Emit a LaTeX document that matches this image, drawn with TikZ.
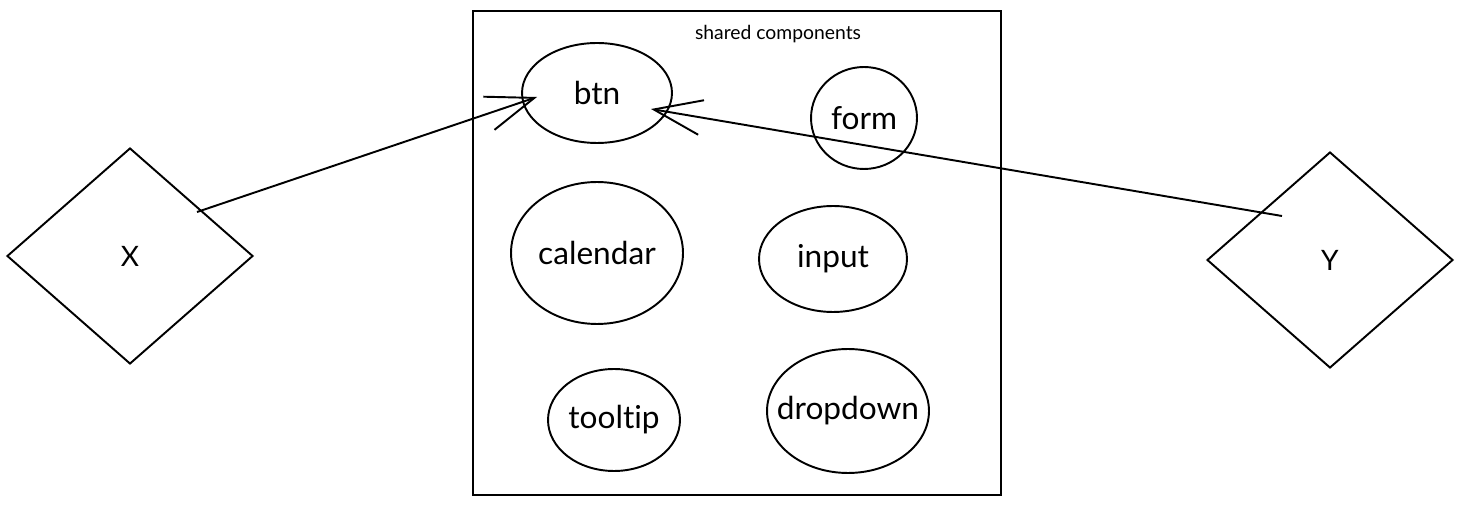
\documentclass[tikz,border=0pt]{standalone}
\usepackage{fontspec}
\setmainfont[Ligatures={NoCommon,NoDiscretionary}]{Lato}
\usetikzlibrary{arrows.meta,shapes.geometric}

\begin{document}
\begin{tikzpicture}[x=0.02cm,y=-0.02cm,line width=1.1pt,
  >={Straight Barb[length=0.96cm,width=0.7cm]},
  comp/.style={draw,ellipse,inner sep=0pt,font=\fontsize{18}{20}\selectfont},
  actor/.style={draw,diamond,inner sep=0pt,minimum width=4.92cm,minimum height=4.32cm,font=\fontsize{16}{18}\selectfont}]
  \useasboundingbox (0,0) rectangle (1470,516);
  % shared components
  \node[draw,minimum width=10.56cm,minimum height=9.68cm] (shared) at (737,253) {};
  \node[font=\fontsize{11}{13}\selectfont] (title) at (778,34) {shared components};
  \node[comp,minimum width=3cm,minimum height=2cm] (btn) at (597,93) {btn};
  \node[comp,minimum width=2.12cm,minimum height=2.04cm] (form) at (864,118) {form};
  \node[comp,minimum width=3.44cm,minimum height=2.84cm] (calendar) at (597,253) {calendar};
  \node[comp,minimum width=2.96cm,minimum height=2.12cm] (input) at (833,259) {input};
  \node[comp,minimum width=2.64cm,minimum height=2.04cm] (tooltip) at (614,420) {tooltip};
  \node[comp,inner xsep=-8pt,minimum width=3.24cm,minimum height=2.48cm] (dropdown) at (848,411) {dropdown};
  % users
  \node[actor] (X) at (130,256) {X};
  \node[actor] (Y) at (1330,260) {Y};
  \coordinate (xstart) at ([shift={(67,-44)}]X.center);
  \coordinate (ystart) at ([shift={(-48,-44)}]Y.center);
  \coordinate (btnin) at ([shift={(-60,4)}]btn.center);
  \coordinate (btnout) at ([shift={(54,16)}]btn.center);
  \draw[->] (xstart)--(btnin);
  \draw[->] (ystart)--(btnout);
\end{tikzpicture}
\end{document}
